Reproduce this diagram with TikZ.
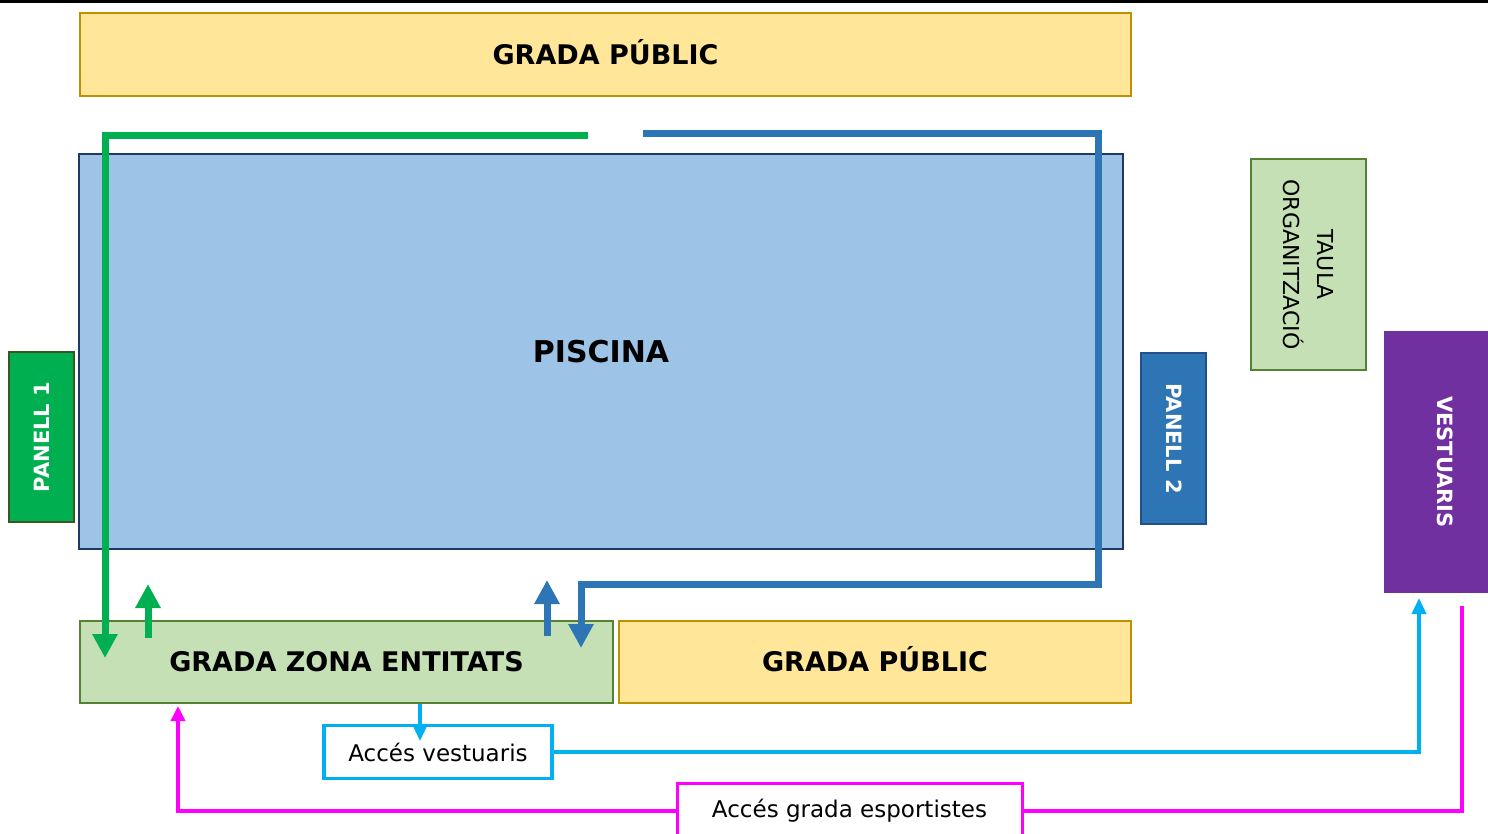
\documentclass[tikz,border=0pt]{standalone}
\usepackage{fontspec}
\setmainfont{DejaVu Sans}
\usetikzlibrary{arrows.meta}
\definecolor{gradafill}{HTML}{FFE699}
\definecolor{gradaline}{HTML}{BF9000}
\definecolor{aiguafill}{HTML}{9DC3E6}
\definecolor{aigualine}{HTML}{1F3864}
\definecolor{verd}{HTML}{00B050}
\definecolor{verdfosc}{HTML}{385723}
\definecolor{blau}{HTML}{2E75B6}
\definecolor{blaufosc}{HTML}{22508A}
\definecolor{verdclar}{HTML}{C5E0B4}
\definecolor{verdline}{HTML}{548235}
\definecolor{lila}{HTML}{7030A0}
\definecolor{cian}{HTML}{00B0F0}
\definecolor{rosa}{HTML}{FF00FF}
\tikzset{
  zona/.style={rectangle, draw, inner sep=0pt, line width=2.5pt, text depth=0pt, text height=19.7pt, font=\bfseries\fontsize{27}{32}\selectfont},
  panell/.style={rectangle, draw, inner sep=0pt, line width=2.5pt, text=white, text depth=0pt, text height=15pt, font=\bfseries\fontsize{21}{25}\selectfont},
  acces/.style={rectangle, draw, fill=white, inner sep=0pt, line width=3.5pt, font=\fontsize{23}{28}\selectfont},
  recorregut/.style={line width=7pt, -{Triangle[width=24pt,length=24pt]}},
  fletxa/.style={line width=3.5pt},
}
\begin{document}
\begin{tikzpicture}[x=1pt,y=-1pt]
\useasboundingbox (0,0) rectangle (1488,834);
\fill[black] (0,0) rectangle (1488,3);
% zones
\node[zona, fill=gradafill, draw=gradaline, minimum width=1051pt, minimum height=83pt] (grada1) at (605.5,54.5){GRADA PÚBLIC};
\node[zona, fill=aiguafill, draw=aigualine, line width=2pt, minimum width=1044pt, minimum height=395pt, text height=22pt, font=\bfseries\fontsize{30}{36}\selectfont] (piscina) at (601,351.5){PISCINA};
\node[zona, fill=verdclar, draw=verdline, minimum width=533pt, minimum height=82pt] (entitats) at (346.5,662){GRADA ZONA ENTITATS};
\node[zona, fill=gradafill, draw=gradaline, minimum width=512pt, minimum height=82pt] (grada2) at (875,662){GRADA PÚBLIC};
% panells
\node[panell, fill=verd, draw=verdfosc, rotate=90, minimum width=170pt, minimum height=65pt] (panell1) at (41.5,437){PANELL 1};
\node[panell, fill=blau, draw=blaufosc, rotate=-90, minimum width=171pt, minimum height=65pt] (panell2) at (1173.5,438.5){PANELL 2};
\node[panell, fill=verdclar, draw=verdline, text=black, rotate=-90, minimum width=211pt, minimum height=115pt, align=center, text height=, text depth=, font=\fontsize{22}{34}\selectfont] (taula) at (1308.5,264.5){TAULA\\ORGANITZACIÓ};
\node[panell, fill=lila, draw=none, rotate=-90, minimum width=262pt, minimum height=122pt] (vestuaris) at (1445,462){VESTUARIS};
% accessos
\node[acces, draw=cian, minimum width=228pt, minimum height=53pt] (accvest) at (438,752){Accés vestuaris};
\node[acces, draw=rosa, line width=3pt, minimum width=345pt, minimum height=56pt] (accgrada) at (849.5,811){Accés grada esportistes};
% recorreguts
\coordinate (gS) at (588,136);
\coordinate (gIn) at (105,658);
\coordinate (gOut0) at (148,638);
\coordinate (gOut1) at (148,584);
\draw[recorregut, verd] (gS) -| (gIn);
\draw[recorregut, verd] (gOut0) -- (gOut1);
\coordinate (bS) at (643,134);
\coordinate (bC) at (1098,584);
\coordinate (bIn) at (581,648);
\coordinate (bOut0) at (547,636);
\coordinate (bOut1) at (547,580);
\draw[recorregut, blau] (bS) -| (bC) -| (bIn);
\draw[recorregut, blau] (bOut0) -- (bOut1);
% accessos vestuaris i grada
\coordinate (cT) at (420,741);
\coordinate (cV) at (1419,598);
\draw[fletxa, cian, -{Triangle[width=14pt,length=16pt]}] (entitats.south -| cT) -- (cT);
\draw[fletxa, cian, -{Triangle[width=14pt,length=16pt]}] (accvest.east) -| (cV);
\coordinate (mL) at (178,706);
\coordinate (mR) at (1462,606);
\draw[fletxa, rosa, -{Triangle[width=14pt,length=15pt]}] (accgrada.west) -| (mL);
\draw[fletxa, rosa] (accgrada.east) -| (mR);
\end{tikzpicture}
\end{document}
